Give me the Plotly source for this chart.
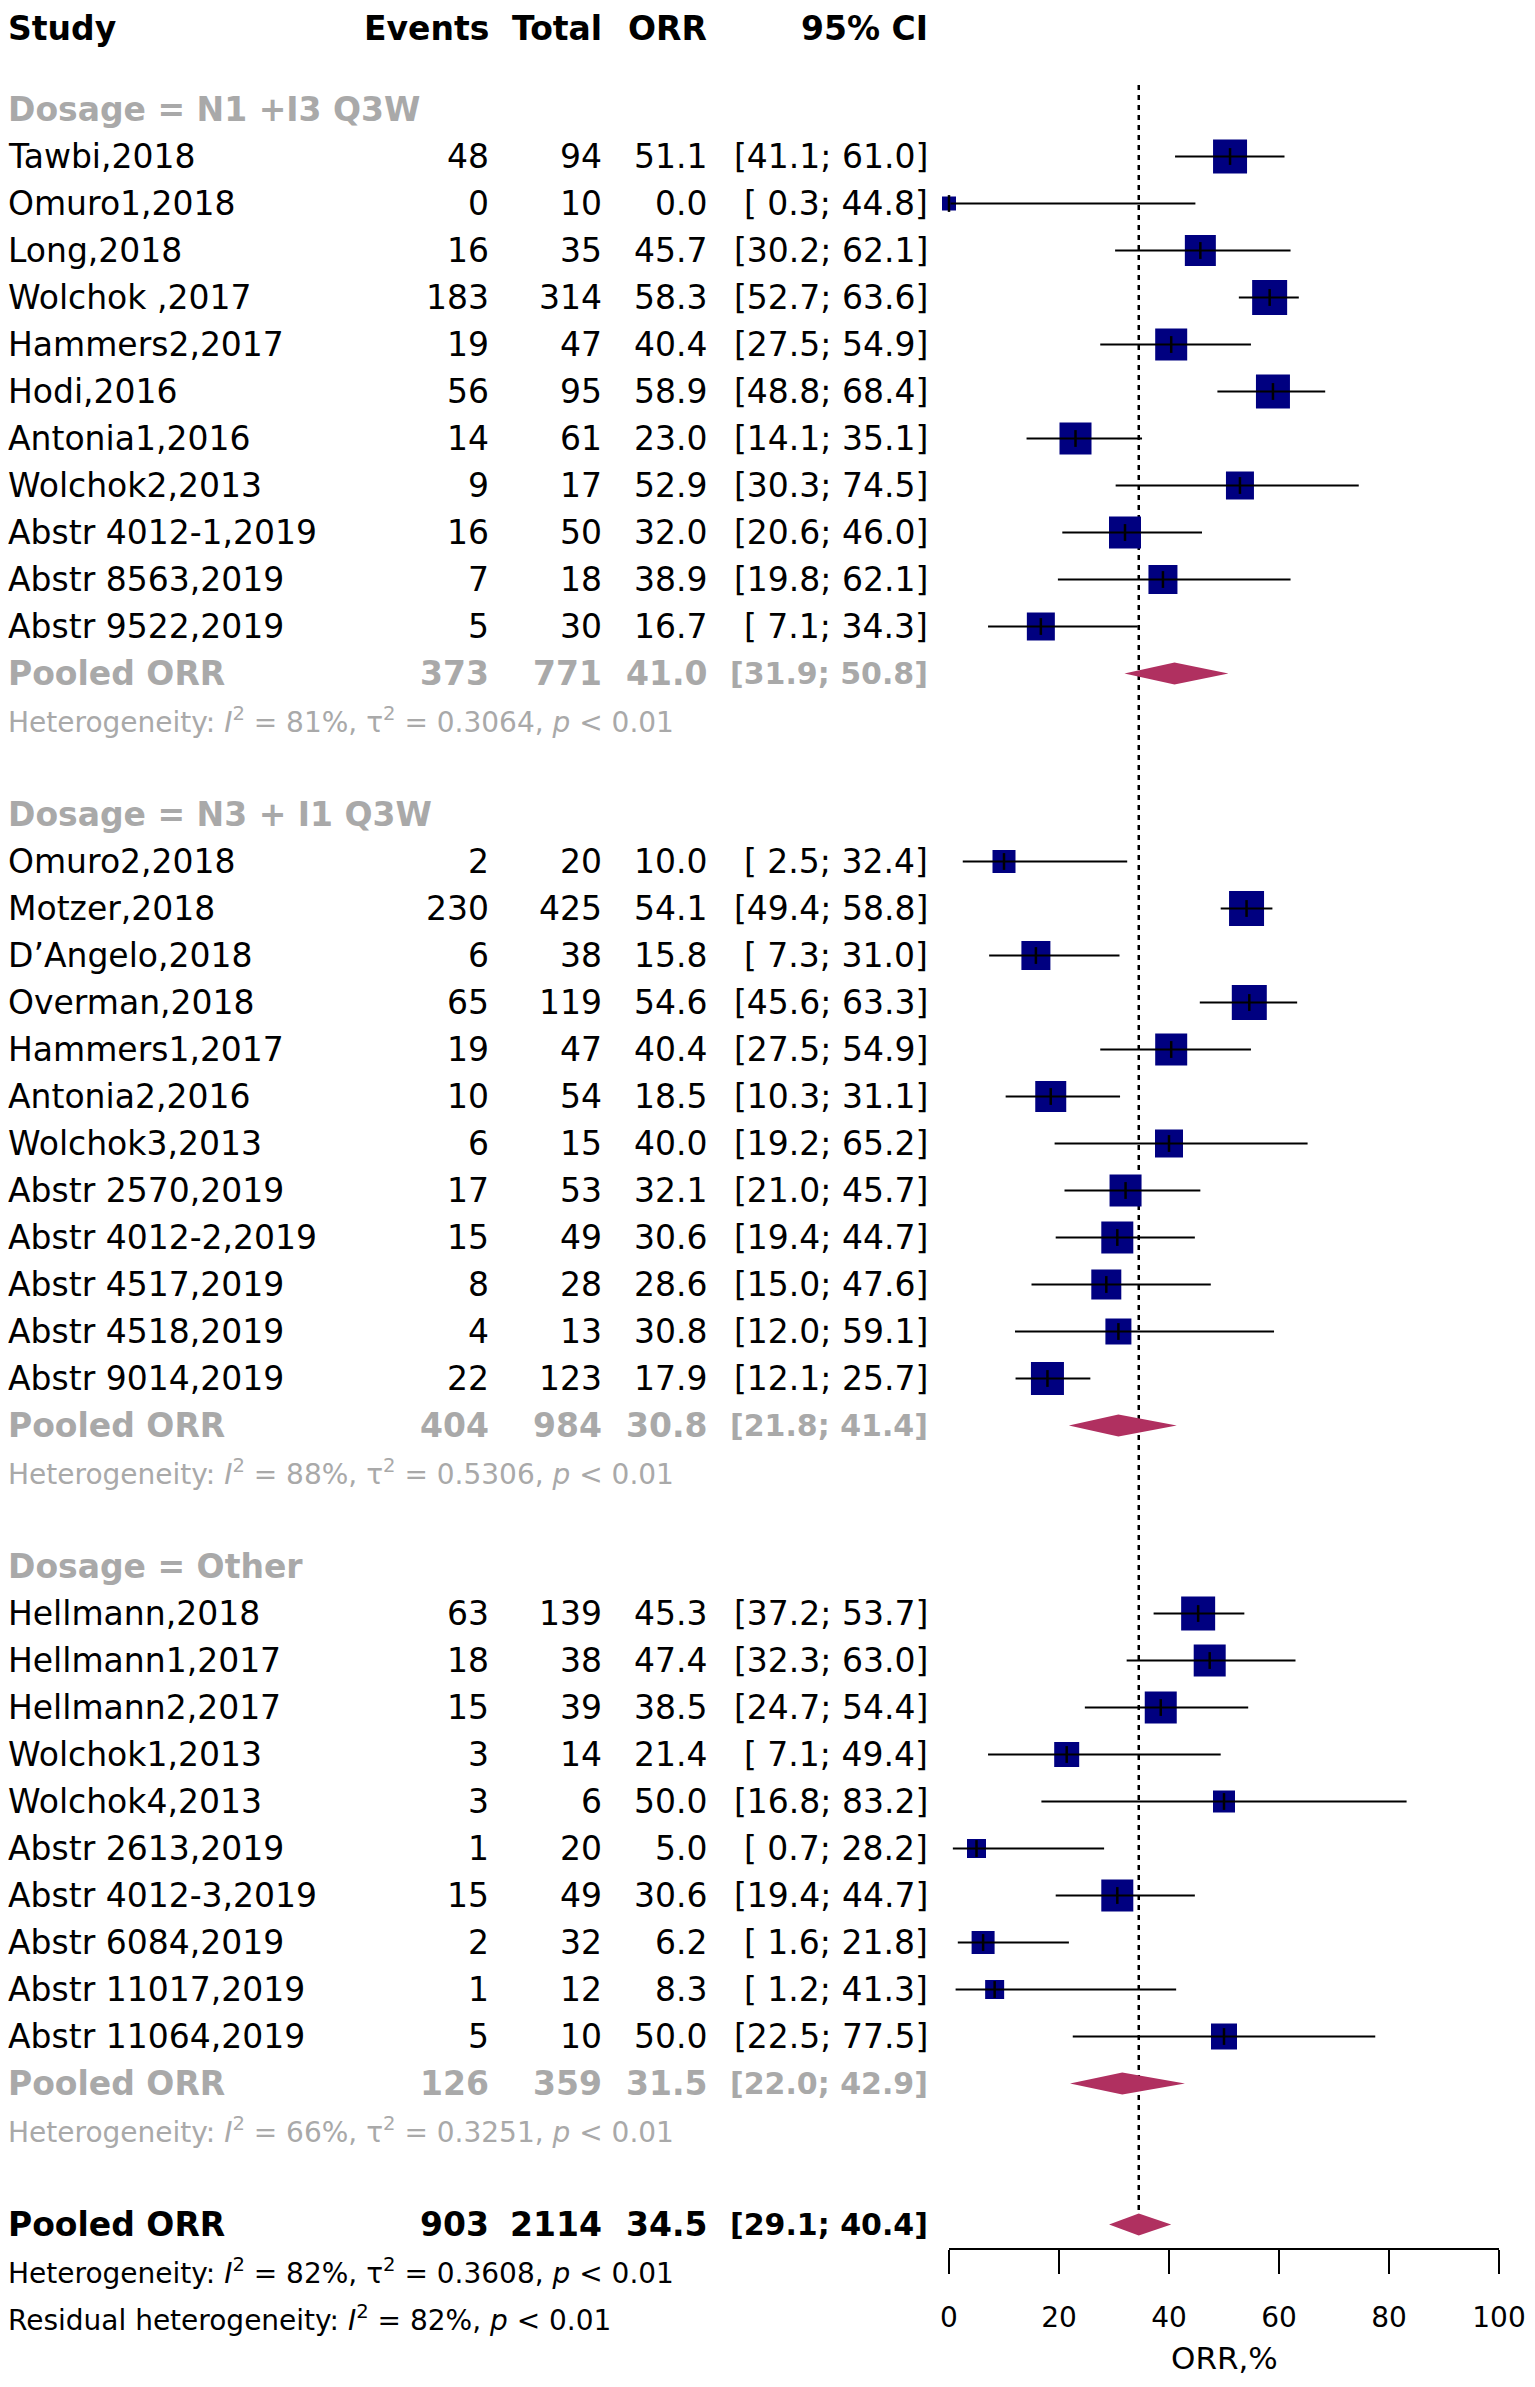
import plotly.graph_objects as go

study = ["Tawbi,2018", "Omuro1,2018", "Long,2018", "Wolchok ,2017", "Hammers2,2017", "Hodi,2016",
         "Antonia1,2016", "Wolchok2,2013", "Abstr 4012-1,2019", "Abstr 8563,2019", "Abstr 9522,2019",
         "Omuro2,2018", "Motzer,2018", "D\u2019Angelo,2018", "Overman,2018", "Hammers1,2017", "Antonia2,2016",
         "Wolchok3,2013", "Abstr 2570,2019", "Abstr 4012-2,2019", "Abstr 4517,2019", "Abstr 4518,2019",
         "Abstr 9014,2019",
         "Hellmann,2018", "Hellmann1,2017", "Hellmann2,2017", "Wolchok1,2013", "Wolchok4,2013",
         "Abstr 2613,2019", "Abstr 4012-3,2019", "Abstr 6084,2019", "Abstr 11017,2019", "Abstr 11064,2019"]
group = [0] * 11 + [1] * 12 + [2] * 10
events = [48, 0, 16, 183, 19, 56, 14, 9, 16, 7, 5,
          2, 230, 6, 65, 19, 10, 6, 17, 15, 8, 4, 22,
          63, 18, 15, 3, 3, 1, 15, 2, 1, 5]
total = [94, 10, 35, 314, 47, 95, 61, 17, 50, 18, 30,
         20, 425, 38, 119, 47, 54, 15, 53, 49, 28, 13, 123,
         139, 38, 39, 14, 6, 20, 49, 32, 12, 10]
orr = [51.1, 0.0, 45.7, 58.3, 40.4, 58.9, 23.0, 52.9, 32.0, 38.9, 16.7,
       10.0, 54.1, 15.8, 54.6, 40.4, 18.5, 40.0, 32.1, 30.6, 28.6, 30.8, 17.9,
       45.3, 47.4, 38.5, 21.4, 50.0, 5.0, 30.6, 6.2, 8.3, 50.0]
ci_lo = [41.1, 0.3, 30.2, 52.7, 27.5, 48.8, 14.1, 30.3, 20.6, 19.8, 7.1,
         2.5, 49.4, 7.3, 45.6, 27.5, 10.3, 19.2, 21.0, 19.4, 15.0, 12.0, 12.1,
         37.2, 32.3, 24.7, 7.1, 16.8, 0.7, 19.4, 1.6, 1.2, 22.5]
ci_hi = [61.0, 44.8, 62.1, 63.6, 54.9, 68.4, 35.1, 74.5, 46.0, 62.1, 34.3,
         32.4, 58.8, 31.0, 63.3, 54.9, 31.1, 65.2, 45.7, 44.7, 47.6, 59.1, 25.7,
         53.7, 63.0, 54.4, 49.4, 83.2, 28.2, 44.7, 21.8, 41.3, 77.5]
# tamanho do quadrado (peso do estudo)
weight = [34, 14, 31, 35, 32, 34, 32, 28, 32, 29, 28,
          23, 35, 29, 35, 32, 31, 28, 32, 32, 30, 26, 33,
          34, 32, 32, 25, 22, 19, 32, 23, 19, 26]

group_label = ["Dosage = N1 +I3 Q3W", "Dosage = N3 + I1 Q3W", "Dosage = Other"]
pool_events = [373, 404, 126]
pool_total = [771, 984, 359]
pool_orr = [41.0, 30.8, 31.5]
pool_lo = [31.9, 21.8, 22.0]
pool_hi = [50.8, 41.4, 42.9]
het_i2 = [81, 88, 66]
het_tau2 = ["0.3064", "0.5306", "0.3251"]

all_events, all_total, all_orr, all_lo, all_hi = 903, 2114, 34.5, 29.1, 40.4
all_i2, all_tau2, resid_i2 = 82, "0.3608", 82
x_ticks = [0, 20, 40, 60, 80, 100]

# --- layout (pixels da figura; a pagina tem 8px de margem em volta) ---
W, H = 1519, 2371
ROW0, ROWH = 7.5, 47.0
X_LEFT = -2
X_EV, X_TOT, X_ORR, X_CI = 483, 596, 701, 922
AX0, AX100 = 941, 1491
AXIS_Y = 2241
FONT = "DejaVu Sans"
FS, FS_HET, FS_BCI = 33, 28, 30
GREY = "#A9A9A9"
NAVY = "#000080"
MAROON = "#B03060"
DH = 0.234  # meia altura do losango (em linhas)

fig = go.Figure()
ann = []


def txt(x_px, row, s, anchor="right", color="black", size=FS):
    ann.append(dict(x=x_px / W, xref="paper", y=row, yref="y", text=s, showarrow=False,
                    xanchor=anchor, yanchor="middle",
                    font=dict(family=FONT, size=size, color=color)))


def ci_str(lo, hi):
    return "[%4.1f; %4.1f]" % (lo, hi)


def row_values(row, ev, tot, est, lo, hi, color="black", bold=False):
    vals = [str(ev), str(tot), "%.1f" % est]
    for xp, v in zip([X_EV, X_TOT, X_ORR], vals):
        txt(xp, row, "<b>%s</b>" % v if bold else v, color=color)
    if bold:
        txt(X_CI, row, "<b>%s</b>" % ci_str(lo, hi), color=color, size=FS_BCI)
    else:
        txt(X_CI, row, ci_str(lo, hi), color=color)


# cabecalho
txt(X_LEFT, 0.28, "<b>Study</b>", anchor="left")
for xp, h in zip([X_EV, X_TOT, X_ORR, X_CI], ["Events", "Total", "ORR", "95% CI"]):
    txt(xp, 0.28, "<b>%s</b>" % h)

study_rows = []
pool_rows = []
r = 2
for g in range(len(group_label)):
    txt(X_LEFT, r, "<b>%s</b>" % group_label[g], anchor="left", color=GREY)
    r += 1
    for i in range(len(study)):
        if group[i] != g:
            continue
        txt(X_LEFT, r, study[i], anchor="left")
        row_values(r, events[i], total[i], orr[i], ci_lo[i], ci_hi[i])
        study_rows.append(r)
        r += 1
    txt(X_LEFT, r, "<b>Pooled ORR</b>", anchor="left", color=GREY)
    row_values(r, pool_events[g], pool_total[g], pool_orr[g], pool_lo[g], pool_hi[g], color=GREY, bold=True)
    pool_rows.append(r)
    r += 1
    txt(X_LEFT, r, "Heterogeneity: <i>I</i><sup>2</sup> = %d%%, \u03c4<sup>2</sup> = %s, <i>p</i> &lt; 0.01"
        % (het_i2[g], het_tau2[g]), anchor="left", color=GREY, size=FS_HET)
    r += 2

all_row = r
txt(X_LEFT, all_row, "<b>Pooled ORR</b>", anchor="left")
row_values(all_row, all_events, all_total, all_orr, all_lo, all_hi, bold=True)
txt(X_LEFT, all_row + 1, "Heterogeneity: <i>I</i><sup>2</sup> = %d%%, \u03c4<sup>2</sup> = %s, <i>p</i> &lt; 0.01"
    % (all_i2, all_tau2), anchor="left", size=FS_HET)
txt(X_LEFT, all_row + 2, "Residual heterogeneity: <i>I</i><sup>2</sup> = %d%%, <i>p</i> &lt; 0.01" % resid_i2,
    anchor="left", size=FS_HET)
txt((AX0 + AX100) / 2, all_row + 2.84, "ORR,%", anchor="center", size=31)

# linha de referencia pontilhada
fig.add_trace(go.Scatter(x=[all_orr, all_orr], y=[1.48, all_row - DH], mode="lines",
                         line=dict(color="black", width=2.5, dash="5px,5px"), hoverinfo="skip"))

# losangos
for g in range(len(group_label)):
    rr = pool_rows[g]
    fig.add_trace(go.Scatter(x=[pool_lo[g], pool_orr[g], pool_hi[g], pool_orr[g], pool_lo[g]],
                             y=[rr, rr - DH, rr, rr + DH, rr], mode="lines", fill="toself",
                             fillcolor=MAROON, line=dict(width=0, color=MAROON), hoverinfo="skip"))
fig.add_trace(go.Scatter(x=[all_lo, all_orr, all_hi, all_orr, all_lo],
                         y=[all_row, all_row - DH, all_row, all_row + DH, all_row], mode="lines",
                         fill="toself", fillcolor=MAROON, line=dict(width=0, color=MAROON), hoverinfo="skip"))

# quadrados
fig.add_trace(go.Scatter(x=orr, y=study_rows, mode="markers", cliponaxis=False,
                         marker=dict(symbol="square", size=weight, color=NAVY, opacity=1,
                                     line=dict(width=0))))

# intervalos de confianca
lx, ly = [], []
for i in range(len(study)):
    lx += [ci_lo[i], ci_hi[i], None]
    ly += [study_rows[i], study_rows[i], None]
fig.add_trace(go.Scatter(x=lx, y=ly, mode="lines", line=dict(color="black", width=2.2), hoverinfo="skip"))
fig.add_trace(go.Scatter(x=orr, y=study_rows, mode="markers", cliponaxis=False,
                         marker=dict(symbol="line-ns", size=12, opacity=1,
                                     line=dict(width=2.5, color="black"))))

fig.update_layout(
    width=W, height=H,
    margin=dict(l=0, r=0, t=0, b=0, autoexpand=False),
    paper_bgcolor="white", plot_bgcolor="white",
    showlegend=False,
    annotations=ann,
    xaxis=dict(domain=[AX0 / W, AX100 / W], range=[0, 100], anchor="free", position=1 - AXIS_Y / H,
               automargin=False,
               showline=True, linewidth=2, linecolor="black", ticks="outside", ticklen=24,
               tickwidth=2, tickcolor="black", tickvals=x_ticks,
               showgrid=False, zeroline=False,
               ticklabeloverflow="allow", ticklabelstandoff=19,
               tickfont=dict(family=FONT, size=28, color="black")),
    yaxis=dict(domain=[0, 1], range=[(H - ROW0) / ROWH, -ROW0 / ROWH], visible=False,
               automargin=False),
)

fig.write_html("out.html")
